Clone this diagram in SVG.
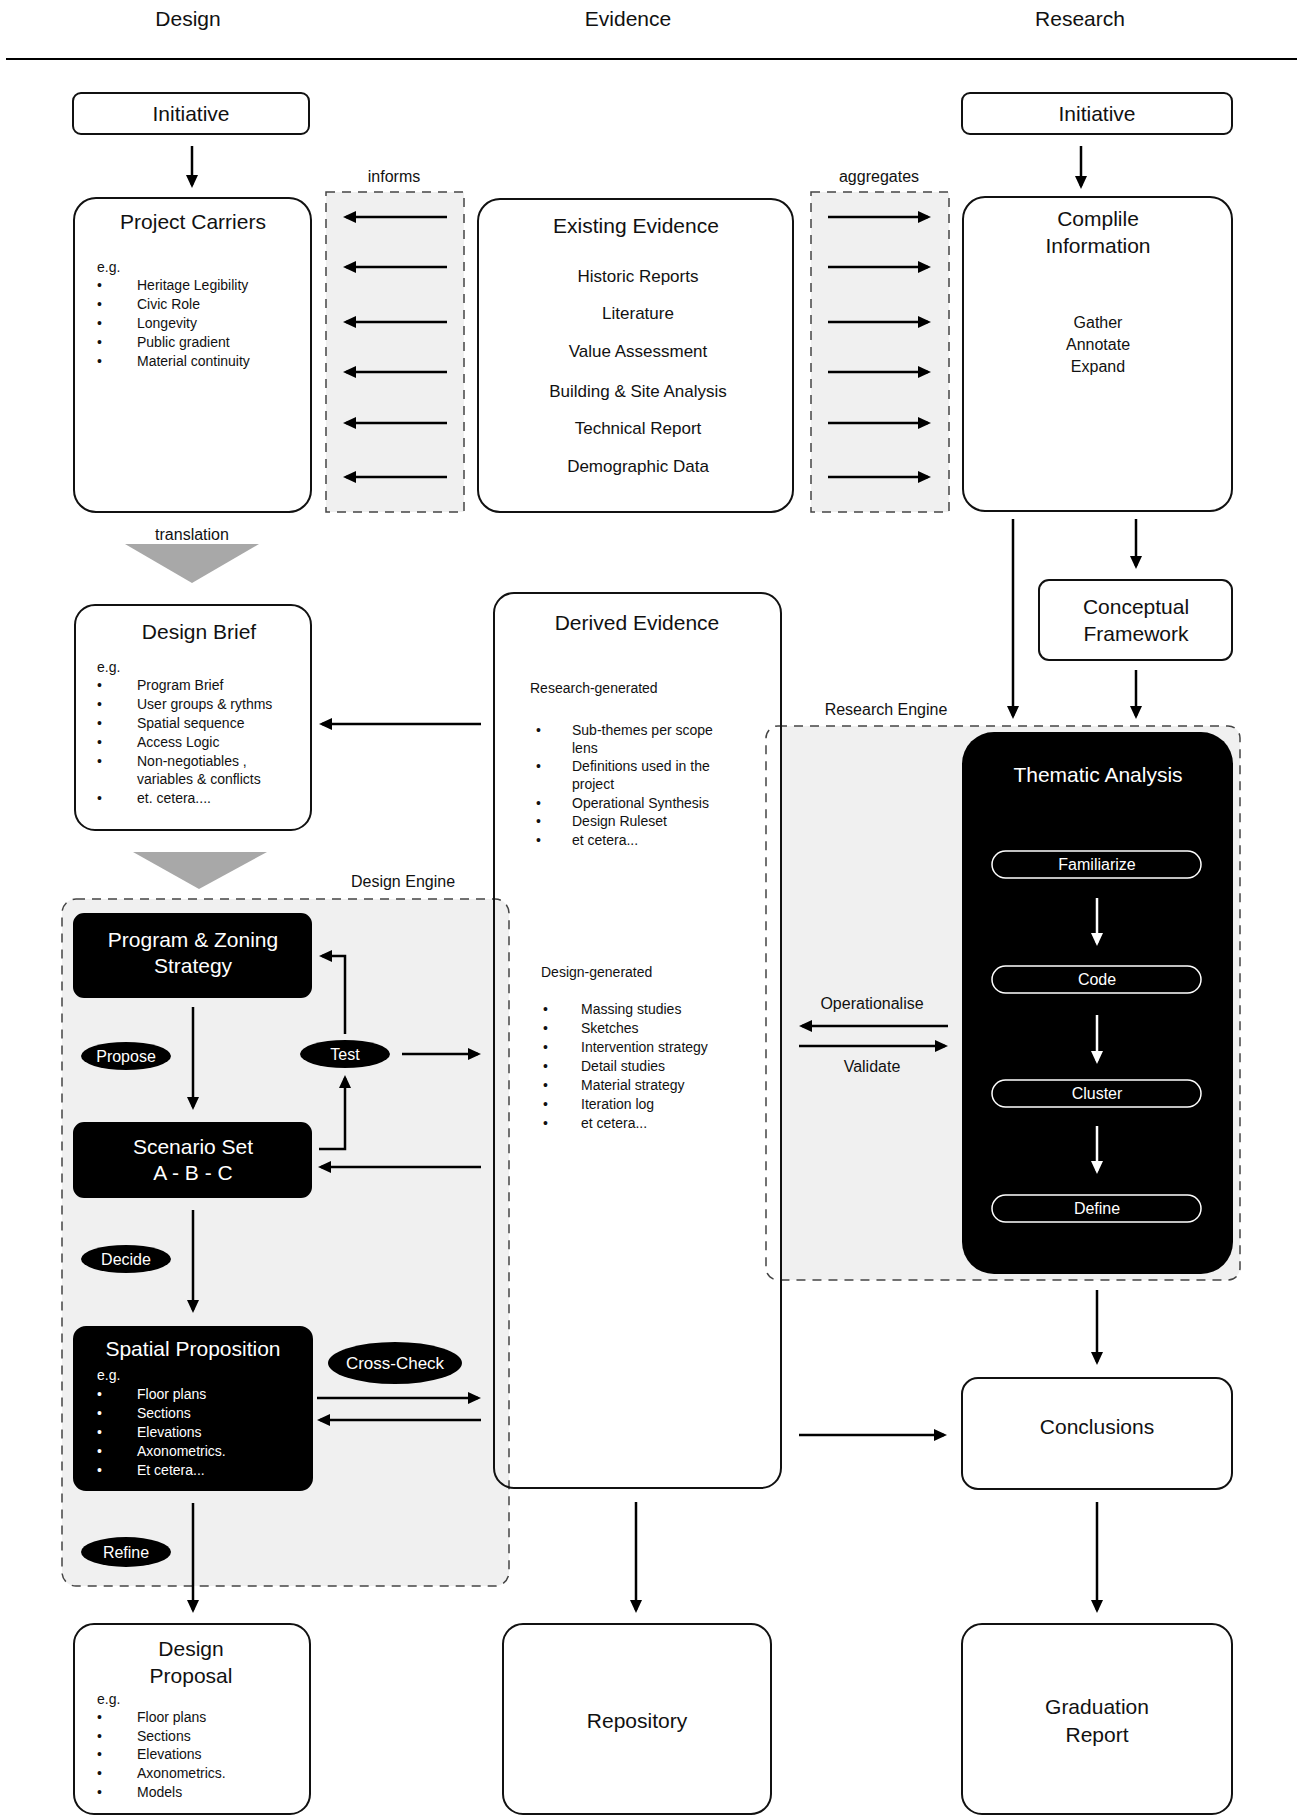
<svg xmlns="http://www.w3.org/2000/svg" width="1297" height="1816" viewBox="0 0 1297 1816">
<style>
text{font-family:"Liberation Sans",Arial,sans-serif;fill:#111}
.h{font-size:21px}
.m{font-size:17px}
.s{font-size:16px}
.xs{font-size:14px}
.c{text-anchor:middle}
.w{fill:#fff}
.box{fill:#fff;stroke:#111;stroke-width:2}
.blk{fill:#000;stroke:#000;stroke-width:2}
.dash{fill:none;stroke:#444;stroke-width:1.5;stroke-dasharray:9 7}
.gray{fill:#f0f0f0}
.ar{fill:none;stroke:#000;stroke-width:2.5;marker-end:url(#ah)}
.arw{fill:none;stroke:#fff;stroke-width:2.5;marker-end:url(#ahw)}
.pill{fill:none;stroke:#fff;stroke-width:1.5}
.tri{fill:#a8a8a8}
</style>
<defs>
<marker id="ah" markerUnits="userSpaceOnUse" markerWidth="13" markerHeight="12" refX="10" refY="6" orient="auto"><path d="M0,0 L13,6 L0,12 Z" fill="#000"/></marker>
<marker id="ahw" markerUnits="userSpaceOnUse" markerWidth="13" markerHeight="12" refX="10" refY="6" orient="auto"><path d="M0,0 L13,6 L0,12 Z" fill="#fff"/></marker>
</defs>
<rect width="1297" height="1816" fill="#fff"/>

<g id="headers">
<text class="h c" x="188" y="26">Design</text>
<text class="h c" x="628" y="26">Evidence</text>
<text class="h c" x="1080" y="26">Research</text>
<line x1="6" y1="59" x2="1297" y2="59" stroke="#000" stroke-width="2"/>
</g>

<g id="informs">
<rect class="gray" x="326" y="192" width="138" height="320"/>
<rect class="dash" x="326" y="192" width="138" height="320"/>
<text class="s c" x="394" y="182">informs</text>
</g>
<g id="aggregates">
<rect class="gray" x="811" y="192" width="138" height="320"/>
<rect class="dash" x="811" y="192" width="138" height="320"/>
<text class="s c" x="879" y="182">aggregates</text>
</g>

<g id="design-engine">
<rect class="gray" x="62" y="899" width="447" height="687" rx="14"/>
<rect class="dash" x="62" y="899" width="447" height="687" rx="14"/>
<text class="s c" x="403" y="887">Design Engine</text>
</g>

<g id="research-engine">
<path class="gray" d="M781,726 H1228 A12,12 0 0 1 1240,738 V1268 A12,12 0 0 1 1228,1280 H781 Z"/>
<rect class="dash" x="766" y="726" width="474" height="554" rx="12"/>
<text class="s c" x="886" y="715">Research Engine</text>
</g>

<g id="initiative-design">
<rect class="box" x="73" y="93" width="236" height="41" rx="8"/>
<text class="h c" x="191" y="121">Initiative</text>
</g>
<g id="initiative-research">
<rect class="box" x="962" y="93" width="270" height="41" rx="8"/>
<text class="h c" x="1097" y="121">Initiative</text>
</g>

<g id="project-carriers">
<rect class="box" x="74" y="198" width="237" height="314" rx="22"/>
<text class="h c" x="193" y="229">Project Carriers</text>
<text class="xs" x="97" y="272">e.g.</text>
<g class="xs">
<text x="97" y="290">•</text><text x="137" y="290">Heritage Legibility</text>
<text x="97" y="309">•</text><text x="137" y="309">Civic Role</text>
<text x="97" y="328">•</text><text x="137" y="328">Longevity</text>
<text x="97" y="347">•</text><text x="137" y="347">Public gradient</text>
<text x="97" y="366">•</text><text x="137" y="366">Material continuity</text>
</g>
</g>

<g id="existing-evidence">
<rect class="box" x="478" y="199" width="315" height="313" rx="22"/>
<text class="h c" x="636" y="233">Existing Evidence</text>
<g class="m c">
<text x="638" y="282">Historic Reports</text>
<text x="638" y="319">Literature</text>
<text x="638" y="357">Value Assessment</text>
<text x="638" y="397">Building &amp; Site Analysis</text>
<text x="638" y="434">Technical Report</text>
<text x="638" y="472">Demographic Data</text>
</g>
</g>

<g id="compile-information">
<rect class="box" x="963" y="197" width="269" height="314" rx="22"/>
<text class="h c" x="1098" y="226">Complile</text>
<text class="h c" x="1098" y="253">Information</text>
<g class="s c">
<text x="1098" y="328">Gather</text>
<text x="1098" y="350">Annotate</text>
<text x="1098" y="372">Expand</text>
</g>
</g>

<g id="conceptual-framework">
<rect class="box" x="1039" y="580" width="193" height="80" rx="10"/>
<text class="h c" x="1136" y="614">Conceptual</text>
<text class="h c" x="1136" y="641">Framework</text>
</g>

<g id="translation">
<polygon class="tri" points="125,544 259,544 192,583"/>
<text class="s c" x="192" y="540">translation</text>
</g>

<g id="design-brief">
<rect class="box" x="75" y="605" width="236" height="225" rx="20"/>
<text class="h c" x="199" y="639">Design Brief</text>
<text class="xs" x="97" y="672">e.g.</text>
<g class="xs">
<text x="97" y="690">•</text><text x="137" y="690">Program Brief</text>
<text x="97" y="709">•</text><text x="137" y="709">User groups &amp; rythms</text>
<text x="97" y="728">•</text><text x="137" y="728">Spatial sequence</text>
<text x="97" y="747">•</text><text x="137" y="747">Access Logic</text>
<text x="97" y="766">•</text><text x="137" y="766">Non-negotiables ,</text>
<text x="137" y="784">variables &amp; conflicts</text>
<text x="97" y="803">•</text><text x="137" y="803">et. cetera....</text>
</g>
</g>

<g id="brief-triangle">
<polygon class="tri" points="133,852 267,852 199,889"/>
</g>

<g id="derived-evidence">
<rect x="494" y="593" width="287" height="895" rx="20" fill="none" stroke="#111" stroke-width="2"/>
<text class="h c" x="637" y="630">Derived Evidence</text>
<g class="xs">
<text x="530" y="693">Research-generated</text>
<text x="536" y="735">•</text><text x="572" y="735">Sub-themes per scope</text>
<text x="572" y="753">lens</text>
<text x="536" y="771">•</text><text x="572" y="771">Definitions used in the</text>
<text x="572" y="789">project</text>
<text x="536" y="808">•</text><text x="572" y="808">Operational Synthesis</text>
<text x="536" y="826">•</text><text x="572" y="826">Design Ruleset</text>
<text x="536" y="845">•</text><text x="572" y="845">et cetera...</text>
<text x="541" y="977">Design-generated</text>
<text x="543" y="1014">•</text><text x="581" y="1014">Massing studies</text>
<text x="543" y="1033">•</text><text x="581" y="1033">Sketches</text>
<text x="543" y="1052">•</text><text x="581" y="1052">Intervention strategy</text>
<text x="543" y="1071">•</text><text x="581" y="1071">Detail studies</text>
<text x="543" y="1090">•</text><text x="581" y="1090">Material strategy</text>
<text x="543" y="1109">•</text><text x="581" y="1109">Iteration log</text>
<text x="543" y="1128">•</text><text x="581" y="1128">et cetera...</text>
</g>
</g>

<g id="program-zoning">
<rect class="blk" x="74" y="914" width="237" height="83" rx="10"/>
<text class="h c w" x="193" y="947">Program &amp; Zoning</text>
<text class="h c w" x="193" y="973">Strategy</text>
</g>
<g id="propose">
<ellipse cx="126" cy="1056" rx="45" ry="14" fill="#000"/>
<text class="s c w" x="126" y="1062">Propose</text>
</g>
<g id="test">
<ellipse cx="345" cy="1054" rx="45" ry="14" fill="#000"/>
<text class="s c w" x="345" y="1060">Test</text>
</g>
<g id="scenario-set">
<rect class="blk" x="74" y="1123" width="237" height="74" rx="10"/>
<text class="h c w" x="193" y="1154">Scenario Set</text>
<text class="h c w" x="193" y="1180">A - B - C</text>
</g>
<g id="decide">
<ellipse cx="126" cy="1259" rx="45" ry="14" fill="#000"/>
<text class="s c w" x="126" y="1265">Decide</text>
</g>
<g id="spatial-proposition">
<rect class="blk" x="74" y="1327" width="238" height="163" rx="12"/>
<text class="h c w" x="193" y="1356">Spatial Proposition</text>
<g class="xs">
<text class="w" x="97" y="1380">e.g.</text>
<text class="w" x="97" y="1399">•</text><text class="w" x="137" y="1399">Floor plans</text>
<text class="w" x="97" y="1418">•</text><text class="w" x="137" y="1418">Sections</text>
<text class="w" x="97" y="1437">•</text><text class="w" x="137" y="1437">Elevations</text>
<text class="w" x="97" y="1456">•</text><text class="w" x="137" y="1456">Axonometrics.</text>
<text class="w" x="97" y="1475">•</text><text class="w" x="137" y="1475">Et cetera...</text>
</g>
</g>
<g id="cross-check">
<ellipse cx="395" cy="1363" rx="67" ry="21" fill="#000"/>
<text class="m c w" x="395" y="1369">Cross-Check</text>
</g>
<g id="refine">
<ellipse cx="126" cy="1552" rx="45" ry="15" fill="#000"/>
<text class="s c w" x="126" y="1558">Refine</text>
</g>

<g id="thematic-analysis">
<rect x="962" y="732" width="271" height="542" rx="32" fill="#000"/>
<text class="h c w" x="1098" y="782">Thematic Analysis</text>
<rect class="pill" x="992" y="851" width="209" height="27" rx="13.5"/>
<text class="s c w" x="1097" y="870">Familiarize</text>
<rect class="pill" x="992" y="966" width="209" height="27" rx="13.5"/>
<text class="s c w" x="1097" y="985">Code</text>
<rect class="pill" x="992" y="1080" width="209" height="27" rx="13.5"/>
<text class="s c w" x="1097" y="1099">Cluster</text>
<rect class="pill" x="992" y="1195" width="209" height="27" rx="13.5"/>
<text class="s c w" x="1097" y="1214">Define</text>
<path class="arw" d="M1097,898 V943"/>
<path class="arw" d="M1097,1015 V1061"/>
<path class="arw" d="M1097,1126 V1171"/>
</g>

<g id="operationalise-label"><text class="s c" x="872" y="1009">Operationalise</text></g>
<g id="validate-label"><text class="s c" x="872" y="1072">Validate</text></g>

<g id="conclusions">
<rect class="box" x="962" y="1378" width="270" height="111" rx="16"/>
<text class="h c" x="1097" y="1434">Conclusions</text>
</g>

<g id="design-proposal">
<rect class="box" x="74" y="1624" width="236" height="190" rx="20"/>
<text class="h c" x="191" y="1656">Design</text>
<text class="h c" x="191" y="1683">Proposal</text>
<g class="xs">
<text x="97" y="1704">e.g.</text>
<text x="97" y="1722">•</text><text x="137" y="1722">Floor plans</text>
<text x="97" y="1741">•</text><text x="137" y="1741">Sections</text>
<text x="97" y="1759">•</text><text x="137" y="1759">Elevations</text>
<text x="97" y="1778">•</text><text x="137" y="1778">Axonometrics.</text>
<text x="97" y="1797">•</text><text x="137" y="1797">Models</text>
</g>
</g>
<g id="repository">
<rect class="box" x="503" y="1624" width="268" height="190" rx="20"/>
<text class="h c" x="637" y="1728">Repository</text>
</g>
<g id="graduation-report">
<rect class="box" x="962" y="1624" width="270" height="190" rx="20"/>
<text class="h c" x="1097" y="1714">Graduation</text>
<text class="h c" x="1097" y="1742">Report</text>
</g>

<g id="connectors">
<path class="ar" d="M192,146 V185"/>
<path class="ar" d="M1081,146 V186"/>
<path class="ar" d="M447,217 H346"/>
<path class="ar" d="M447,267 H346"/>
<path class="ar" d="M447,322 H346"/>
<path class="ar" d="M447,372 H346"/>
<path class="ar" d="M447,423 H346"/>
<path class="ar" d="M447,477 H346"/>
<path class="ar" d="M828,217 H928"/>
<path class="ar" d="M828,267 H928"/>
<path class="ar" d="M828,322 H928"/>
<path class="ar" d="M828,372 H928"/>
<path class="ar" d="M828,423 H928"/>
<path class="ar" d="M828,477 H928"/>
<path class="ar" d="M1013,519 V716"/>
<path class="ar" d="M1136,519 V566"/>
<path class="ar" d="M1136,670 V716"/>
<path class="ar" d="M481,724 H322"/>
<path class="ar" d="M193,1007 V1107"/>
<path class="ar" d="M402,1054 H478"/>
<path class="ar" d="M319,1149 H345 V1078"/>
<path class="ar" d="M345,1034 V956 H322"/>
<path class="ar" d="M481,1167 H321"/>
<path class="ar" d="M193,1210 V1310"/>
<path class="ar" d="M317,1398 H478"/>
<path class="ar" d="M481,1420 H320"/>
<path class="ar" d="M193,1503 V1610"/>
<path class="ar" d="M636,1502 V1610"/>
<path class="ar" d="M1097,1502 V1610"/>
<path class="ar" d="M1097,1290 V1362"/>
<path class="ar" d="M799,1435 H944"/>
<path class="ar" d="M948,1026 H802"/>
<path class="ar" d="M799,1046 H945"/>
</g>
</svg>
